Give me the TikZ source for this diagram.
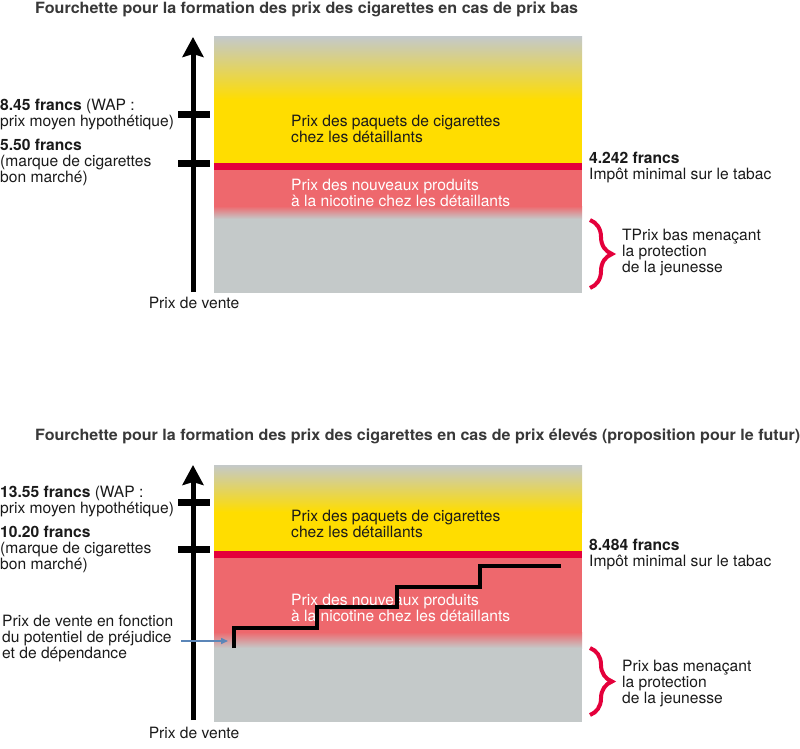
\documentclass[tikz,border=0pt]{standalone}
\usepackage{fontspec}
\setmainfont{TeX Gyre Heros}
\usetikzlibrary{decorations.pathreplacing,arrows.meta}
\definecolor{cgray}{HTML}{C4C9C9}
\definecolor{cyellow}{HTML}{FFDD00}
\definecolor{cred}{HTML}{E4003B}
\definecolor{cpink}{HTML}{EE686D}
\definecolor{ctitle}{HTML}{383838}
\definecolor{ctext}{HTML}{1A1A1A}
\definecolor{cblue}{HTML}{5B86B8}
\newcommand\fitto[2]{\resizebox{#1}{\height}{#2}}
\begin{document}
\begin{tikzpicture}[x=1pt,y=-1pt,
  lbl/.style={inner sep=0pt, align=left, anchor=west, text=ctext, font=\fontsize{15.6}{16}\selectfont},
  inlbl/.style={lbl},
  wlbl/.style={lbl, text=white},
  ttl/.style={inner sep=0pt, anchor=west, text=ctitle, font=\bfseries\fontsize{15.5}{18}\selectfont},
  axisline/.style={line width=5pt, -{Stealth[length=20pt,width=21pt,inset=3pt]}},
  tickmark/.style={line width=7pt},
  stair/.style={line width=3.5pt, black, miter limit=10},
  pointer/.style={cblue, line width=1.5pt, -{Triangle[length=7pt,width=6pt]}},
  bracestyle/.style={cred, line width=4pt, decorate, decoration={brace, amplitude=22pt, aspect=0.5}},
]
\useasboundingbox (0,0) rectangle (800,749);

% ===== Top chart =====
\node[ttl] (t1) at (35,9) {\fitto{543pt}{Fourchette pour la formation des prix des cigarettes en cas de prix bas}};

\fill[cgray] (214,37) rectangle (582,293);
\shade[top color=cgray, bottom color=cyellow] (214,37) rectangle (582,100);
\fill[cyellow] (214,100) rectangle (582,163);
\fill[cred] (214,163) rectangle (582,170);
\fill[cpink] (214,170) rectangle (582,206);
\shade[top color=cpink, bottom color=cgray] (214,206) rectangle (582,219);

\draw[axisline] (193,292) -- (193,37);
\draw[tickmark] (178,115) -- (210,115);
\draw[tickmark] (178,163) -- (210,163);

\node[lbl] (wap1) at (0,114.5) {\textbf{8.45 francs} (WAP :\\prix moyen hypothétique)};
\node[lbl] (cheap1) at (0,162) {\textbf{5.50 francs}\\(marque de cigarettes\\bon marché)};
\node[lbl, anchor=center] (pv1) at (194,303) {Prix de vente};
\node[inlbl] (pq1) at (291,128.5) {Prix des paquets de cigarettes\\chez les détaillants};
\node[wlbl] (np1) at (291,192.5) {Prix des nouveaux produits\\à la nicotine chez les détaillants};
\node[lbl] (tax1) at (589,167.5) {\textbf{4.242 francs}\\Impôt minimal sur le tabac};
\draw[bracestyle] (590,220) -- (590,288);
\node[lbl] (low1) at (622,253) {TPrix bas menaçant\\la protection\\de la jeunesse};

% ===== Bottom chart =====
\node[ttl] (t2) at (35,436) {\fitto{765pt}{Fourchette pour la formation des prix des cigarettes en cas de prix élevés (proposition pour le futur)}};

\fill[cgray] (214,465) rectangle (582,722);
\shade[top color=cgray, bottom color=cyellow] (214,465) rectangle (582,512);
\fill[cyellow] (214,512) rectangle (582,551);
\fill[cred] (214,551) rectangle (582,558);
\fill[cpink] (214,558) rectangle (582,632);
\shade[top color=cpink, bottom color=cgray] (214,632) rectangle (582,648);

\draw[axisline] (193,720) -- (193,465);
\draw[tickmark] (178,502) -- (210,502);
\draw[tickmark] (178,549) -- (210,549);

\node[lbl] (wap2) at (0,501.5) {\textbf{13.55 francs} (WAP :\\prix moyen hypothétique)};
\node[lbl] (cheap2) at (0,549) {\textbf{10.20 francs}\\(marque de cigarettes\\bon marché)};
\node[lbl] (harm) at (2,638.5) {Prix de vente en fonction\\du potentiel de préjudice\\et de dépendance};
\node[lbl, anchor=center] (pv2) at (194,733) {Prix de vente};
\node[inlbl] (pq2) at (291,524) {Prix des paquets de cigarettes\\chez les détaillants};
\node[wlbl] (np2) at (291,608) {Prix des nouveaux produits\\à la nicotine chez les détaillants};

\coordinate (s0) at (234,648);
\coordinate (s9) at (561,566);
\draw[stair] (s0) |- (317,628) |- (397,607) |- (480,587) |- (s9);

\coordinate (pa) at (181,641);
\coordinate (pb) at (228,641);
\draw[pointer] (pa) -- (pb);

\node[lbl] (tax2) at (589,555) {\textbf{8.484 francs}\\Impôt minimal sur le tabac};
\draw[bracestyle] (590,648) -- (590,715);
\node[lbl] (low2) at (622,684) {Prix bas menaçant\\la protection\\de la jeunesse};
\end{tikzpicture}
\end{document}
